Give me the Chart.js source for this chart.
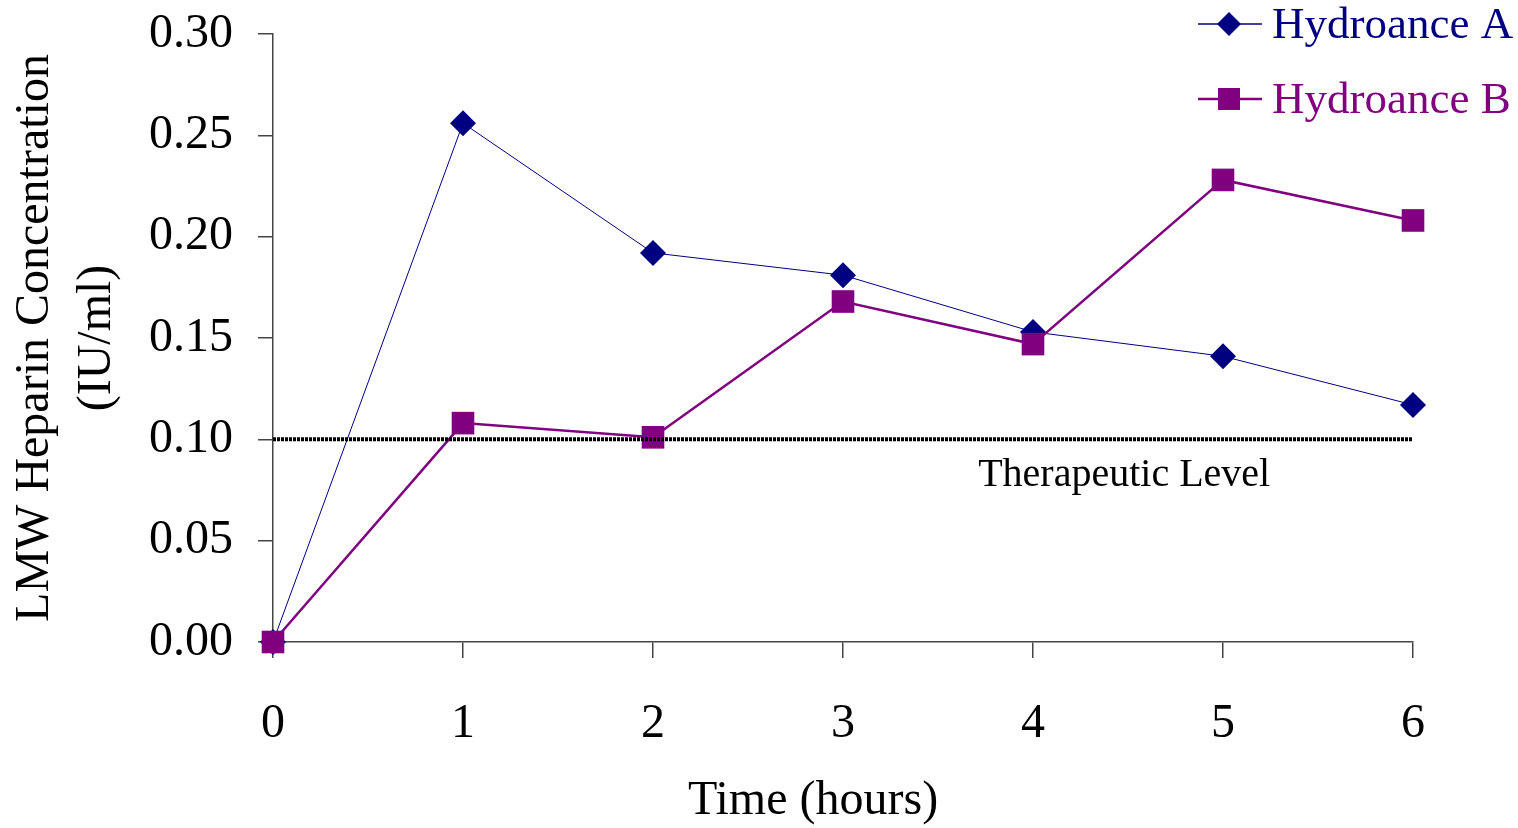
<!DOCTYPE html>
<html>
<head>
<meta charset="utf-8">
<script src="https://cdn.jsdelivr.net/npm/chart.js@4.4.1/dist/chart.umd.min.js"></script>
<style>
  html, body { margin: 0; padding: 0; background: #fff; }
  #wrap { width: 1518px; height: 828px; }
</style>
</head>
<body>
<div id="wrap"><canvas id="levelChart" width="1518" height="828"></canvas></div>
<script>
const hours = [0, 1, 2, 3, 4, 5, 6];
const hydroanceA = [0.000, 0.256, 0.192, 0.181, 0.153, 0.141, 0.117];
const hydroanceB = [0.000, 0.108, 0.101, 0.168, 0.147, 0.228, 0.208];
const therapeuticLevel = 0.10;
const levelLabel = 'Therapeutic Level';
const xTitle = 'Time (hours)';
const yTitle = ['LMW Heparin Concentration', '(IU/ml)'];
const yTicks = [0, 0.05, 0.10, 0.15, 0.20, 0.25, 0.30];
const legendOrder = ['Hydroance A', 'Hydroance B'];

const serif = '"Liberation Serif", "Times New Roman", serif';
const navy = '#000080';
const purple = '#800080';

function pairs(xs, ys) {
    return xs.map((x, i) => ({ x: x, y: ys[i] }));
}

// legend, x title and the label for the dotted line
const overlay = {
    id: 'overlay',
    afterDatasetsDraw(chart) {
        const { ctx, scales: { x, y } } = chart;
        ctx.save();
        ctx.fillStyle = '#000';
        ctx.textAlign = 'center';
        ctx.textBaseline = 'middle';
        ctx.font = '40px ' + serif;
        ctx.fillText(levelLabel, x.getPixelForValue(4.48), y.getPixelForValue(therapeuticLevel) + 36);
        ctx.font = '48px ' + serif;
        ctx.fillText(xTitle, 813, 801);

        legendOrder.forEach((name, i) => {
            const d = chart.data.datasets.find(ds => ds.label === name);
            const cy = 24 + i * 75;
            ctx.strokeStyle = d.borderColor;
            ctx.lineWidth = d.borderWidth < 2 ? 1.5 : 2.5;
            ctx.beginPath();
            ctx.moveTo(1198, cy);
            ctx.lineTo(1262, cy);
            ctx.stroke();
            ctx.fillStyle = d.backgroundColor;
            ctx.beginPath();
            if (d.pointStyle === 'rectRot') {
                const r = 12;
                ctx.moveTo(1229, cy - r);
                ctx.lineTo(1229 + r, cy);
                ctx.lineTo(1229, cy + r);
                ctx.lineTo(1229 - r, cy);
                ctx.closePath();
            } else {
                ctx.rect(1229 - 11, cy - 11, 22, 22);
            }
            ctx.fill();
            ctx.font = '45px ' + serif;
            ctx.textAlign = 'left';
            ctx.fillStyle = d.borderColor;
            ctx.fillText(d.label, 1272, cy + 2);
        });
        ctx.restore();
    }
};

const ctx = document.getElementById('levelChart').getContext('2d');
new Chart(ctx, {
    type: 'line',
    data: {
        datasets: [
            {
                label: levelLabel,
                data: pairs([hours[0], hours[hours.length - 1]], [therapeuticLevel, therapeuticLevel]),
                borderColor: '#000',
                borderWidth: 4,
                borderDash: [3, 1],
                pointRadius: 0,
                clip: false
            },
            {
                label: 'Hydroance B',
                data: pairs(hours, hydroanceB),
                borderColor: purple,
                backgroundColor: purple,
                borderWidth: 2.5,
                pointStyle: 'rect',
                pointRadius: 16,
                pointBorderWidth: 0,
                clip: false
            },
            {
                label: 'Hydroance A',
                data: pairs(hours, hydroanceA),
                borderColor: navy,
                backgroundColor: navy,
                borderWidth: 1,
                pointStyle: 'rectRot',
                pointRadius: 13,
                pointBorderWidth: 0,
                clip: false
            }
        ]
    },
    options: {
        responsive: false,
        animation: false,
        layout: { padding: { left: 0, right: 105, top: 34, bottom: 0 } },
        plugins: {
            legend: { display: false },
            tooltip: { enabled: false }
        },
        scales: {
            x: {
                type: 'linear',
                min: 0,
                max: 6,
                afterFit: s => { s.height = 186; s.paddingLeft = 0; s.paddingRight = 0; },
                afterBuildTicks: s => { s.ticks = hours.map(v => ({ value: v })); },
                grid: { drawOnChartArea: false, drawTicks: true, tickLength: 16, color: '#444', lineWidth: 1.5 },
                border: { display: true, color: '#444', width: 1.5 },
                ticks: { color: '#000', font: { family: serif, size: 48 }, padding: 38 }
            },
            y: {
                min: 0,
                max: 0.3,
                afterFit: s => { s.width = 273; s.paddingTop = 0; s.paddingBottom = 0; },
                afterBuildTicks: s => { s.ticks = yTicks.map(v => ({ value: v })); },
                grid: { drawOnChartArea: false, drawTicks: true, tickLength: 15, color: '#444', lineWidth: 1.5 },
                border: { display: true, color: '#444', width: 1.5 },
                ticks: {
                    color: '#000',
                    font: { family: serif, size: 48 },
                    padding: 25,
                    callback: v => v.toFixed(2)
                },
                title: {
                    display: true,
                    text: yTitle,
                    color: '#000',
                    font: { family: serif, size: 48, lineHeight: 1.3 },
                    padding: { top: 4, bottom: 0 }
                }
            }
        }
    },
    plugins: [overlay]
});
</script>
</body>
</html>
